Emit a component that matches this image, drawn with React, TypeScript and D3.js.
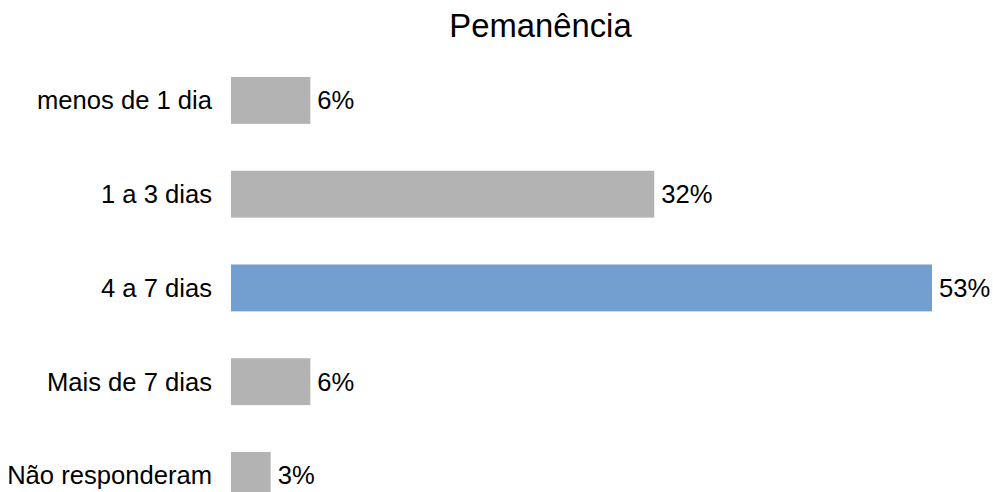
import React from "react";
import * as d3 from "d3";

const categories = ["menos de 1 dia", "1 a 3 dias", "4 a 7 dias", "Mais de 7 dias", "Não responderam"];
const values = [6, 32, 53, 6, 3];
const highlight = [false, false, true, false, false];
const title = "Pemanência";

const W = 993;
const H = 492;
const FONT = "'Liberation Sans', Arial, sans-serif";

export default function App() {
  const x = d3.scaleLinear().domain([0, 53]).range([231, 932]);
  const y = d3
    .scaleBand<string>()
    .domain(categories)
    .range([53.56, 522.3])
    .paddingInner(0.5)
    .paddingOuter(0.25);

  return (
    <svg width={W} height={H} style={{ position: "absolute", left: 0, top: 0, background: "#fff" }}>
      <rect width={W} height={H} fill="#fff" />
      <text x={540.5} y={37} textAnchor="middle" fontFamily={FONT} fontSize={32.8} fill="#000">
        {title}
      </text>
      {categories.map((c, i) => {
        const y0 = y(c)!;
        const cy = y0 + y.bandwidth() / 2;
        return (
          <g key={c}>
            <rect
              x={x(0)}
              y={y0}
              width={x(values[i]) - x(0)}
              height={y.bandwidth()}
              fill={highlight[i] ? "#729fcf" : "#b3b3b3"}
            />
            <text x={212} y={cy} dy="0.35em" textAnchor="end" fontFamily={FONT} fontSize={25.6} fill="#000">
              {c}
            </text>
            <text x={x(values[i]) + 7} y={cy} dy="0.35em" fontFamily={FONT} fontSize={25.6} fill="#000">
              {`${values[i]}%`}
            </text>
          </g>
        );
      })}
    </svg>
  );
}
